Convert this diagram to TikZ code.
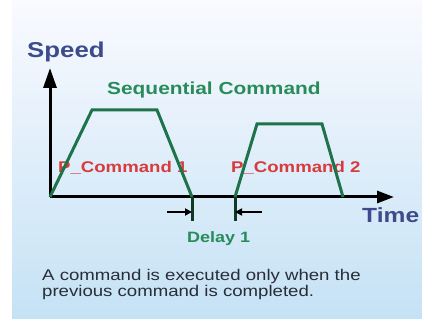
\documentclass[tikz,border=0pt]{standalone}
\usepackage{fontspec}
\setmainfont{Liberation Sans}
\newfontfamily\labelfont[FakeStretch=1.2]{Liberation Sans}
\usetikzlibrary{arrows.meta}
\definecolor{AxisBlue}{RGB}{60, 75, 140}
\definecolor{CurveGreen}{RGB}{30, 115, 75}
\definecolor{TextGreen}{RGB}{40, 140, 90}
\definecolor{CmdRed}{RGB}{215, 60, 60}
\definecolor{NoteGray}{RGB}{40, 45, 55}

\begin{document}
\begin{tikzpicture}[x=1pt, y=1pt,
  axislabel/.style={font=\labelfont\bfseries\fontsize{21}{25}\selectfont, AxisBlue, anchor=base west, inner sep=0pt},
  cmdlabel/.style={font=\labelfont\bfseries\fontsize{15.5}{18}\selectfont, CmdRed, anchor=base west, inner sep=0pt},
  greenlabel/.style={font=\labelfont\bfseries\fontsize{15}{18}\selectfont, TextGreen, anchor=base west, inner sep=0pt},
  notelabel/.style={font=\labelfont\fontsize{15.5}{18}\selectfont, NoteGray, anchor=base west, inner sep=0pt},
  profile/.style={line width=3pt, CurveGreen, line join=miter}]
\useasboundingbox (0,0) rectangle (422,321);
% background
\shade[top color=blue!2, bottom color={rgb,255:red,197;green,226;blue,245}] (12,3) rectangle (422,321);

% labels
\node[axislabel, font=\labelfont\bfseries\fontsize{21.5}{25}\selectfont] (speed) at (27,263) {Speed};
\node[axislabel, font=\labelfont\bfseries\fontsize{20.5}{24}\selectfont] (time) at (362,98) {Time};
\node[greenlabel, font=\labelfont\bfseries\fontsize{17.4}{20}\selectfont] (seq) at (107,226) {Sequential Command};
\node[cmdlabel] (cmd1) at (58,148) {P\_Command 1};
\node[cmdlabel] (cmd2) at (231,148) {P\_Command 2};

% axes
\coordinate (O) at (50,124);
\coordinate (ytip) at (50,253);
\coordinate (xtip) at (394,124);
\draw[line width=3pt, -{Triangle[length=20pt,width=13pt]}] (O) -- (ytip);
\draw[line width=3pt, -{Triangle[length=17pt,width=12pt]}] (O) -- (xtip);

% command 1
\coordinate (a1) at (92,211);
\coordinate (b1) at (157,211);
\coordinate (e1) at (192,124);
\draw[profile] (O) -- (a1) -- (b1) -- (e1);

% command 2
\coordinate (s2) at (235,124);
\coordinate (a2) at (257,197);
\coordinate (b2) at (322,197);
\coordinate (e2) at (343,124);
\draw[profile] (s2) -- (a2) -- (b2) -- (e2);

% delay
\coordinate (t1) at (192,100);
\coordinate (t2) at (235,100);
\coordinate (d1) at (167,109);
\coordinate (d2) at (262,109);
\draw[line width=3pt, CurveGreen!50!black] (e1) -- (t1);
\draw[line width=3pt, CurveGreen!50!black] (s2) -- (t2);
\draw[line width=2pt, -{Triangle[length=7pt,width=7pt]}] (d1) -- (d1 -| e1);
\draw[line width=2pt, -{Triangle[length=7pt,width=7pt]}] (d2) -- (d2 -| s2);
\node[greenlabel] (delay) at (187,78) {Delay 1};

% note
\node[notelabel] (note1) at (42,41) {A command is executed only when the};
\node[notelabel] (note2) at (42,25) {previous command is completed.};
\end{tikzpicture}
\end{document}
